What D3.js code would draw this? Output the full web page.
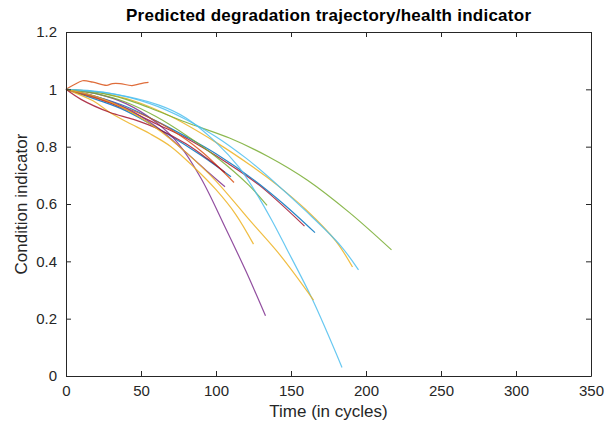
<!DOCTYPE html>
<html>
<head>
<meta charset="utf-8">
<script src="https://cdn.jsdelivr.net/npm/d3@7"></script>
<style>
body { margin: 0; background: #fff; }
text { font-family: "Liberation Sans", Arial, sans-serif; fill: #262626; }
</style>
</head>
<body>
<div id="chart"></div>
<script>
// each trajectory: [cycle, condition indicator]
var orangeWiggle = [[0,1],[5,1.015],[11,1.03],[18,1.025],[27,1.014],[31,1.02],[36,1.02],[44,1.013],[50,1.02],[55,1.024]];
var purpleLong = [[0,1],[20,0.985],[40,0.95],[60,0.885],[75,0.81],[90,0.69],[106,0.52],[120,0.365],[133,0.21]];
var purpleShort = [[0,1],[20,0.975],[40,0.935],[60,0.87],[80,0.78],[95,0.71],[106,0.66]];
var yellowLow = [[0,1],[18,0.96],[29,0.92],[41,0.885],[56,0.845],[70,0.8],[85,0.73],[100,0.65],[113,0.565],[125,0.46]];
var yellowMid = [[0,1],[20,0.975],[40,0.93],[60,0.865],[80,0.78],[100,0.68],[123,0.54],[143,0.42],[165,0.265]];
var blueSteep = [[0,1],[30,0.985],[62,0.945],[80,0.9],[100,0.815],[115,0.73],[126,0.645],[137,0.545],[147,0.445],[164,0.27],[184,0.03]];
var blueLight = [[0,1],[25,0.99],[56,0.95],[80,0.895],[100,0.835],[120,0.76],[136,0.69],[160,0.575],[183,0.455],[195,0.37]];
var yellowHigh = [[0,1],[20,0.99],[45,0.96],[70,0.905],[100,0.815],[123,0.735],[141,0.665],[160,0.58],[180,0.47],[191,0.38]];
var redMid = [[0,1],[20,0.97],[40,0.93],[60,0.88],[80,0.83],[107,0.745],[129,0.665],[159,0.523]];
var blueMid = [[0,1],[20,0.975],[40,0.94],[60,0.89],[80,0.835],[100,0.775],[125,0.685],[145,0.6],[166,0.5]];
var greenLong = [[0,1],[20,0.99],[40,0.965],[56,0.935],[80,0.885],[109,0.83],[135,0.765],[161,0.683],[189,0.57],[217,0.44]];
var greenShort = [[0,1],[20,0.985],[40,0.955],[60,0.905],[80,0.84],[100,0.765],[122,0.665],[134,0.595]];
var orangeMid = [[0,1],[20,0.97],[40,0.935],[56,0.9],[70,0.86],[90,0.785],[112,0.675]];
var redLow = [[0,1],[10,0.965],[29,0.92],[45,0.895],[60,0.865],[80,0.81],[95,0.755],[106,0.71]];
var blueLow = [[0,1],[20,0.965],[40,0.925],[69,0.84],[90,0.77],[110,0.695]];

var series = [blueLow, orangeWiggle, yellowHigh, purpleLong, greenLong, blueLight, redMid,
    blueMid, orangeMid, yellowLow, purpleShort, greenShort, blueSteep, redLow, yellowMid];
var colors = ["#0072BD", "#D95319", "#EDB120", "#7E2F8E", "#77AC30", "#4DBEEE", "#A2142F",
    "#0072BD", "#D95319", "#EDB120", "#7E2F8E", "#77AC30", "#4DBEEE", "#A2142F", "#EDB120"];

var xTicks = [0, 50, 100, 150, 200, 250, 300, 350];
var yTicks = [0, 0.2, 0.4, 0.6, 0.8, 1, 1.2];

var width = 606, height = 425;
var margin = {top: 32, right: 15, bottom: 49, left: 66};

var svg = d3.select("#chart").append("svg")
    .attr("width", width)
    .attr("height", height);

var x = d3.scaleLinear().domain([0, 350]).range([margin.left, width - margin.right]);
var y = d3.scaleLinear().domain([0, 1.2]).range([height - margin.bottom, margin.top]);

var line = d3.line()
    .x(function(d) { return x(d[0]); })
    .y(function(d) { return y(d[1]); })
    .curve(d3.curveCatmullRom.alpha(0.5));

svg.append("g")
    .selectAll("path")
    .data(series)
    .enter()
    .append("path")
    .attr("d", line)
    .attr("fill", "none")
    .attr("stroke", function(d, i) { return colors[i]; })
    .attr("stroke-width", 1.2)
    .attr("opacity", 0.85);

// axes, MATLAB style with the box and inward ticks
var axisColor = "#262626";
function styleAxis(g) {
    g.select(".domain").attr("stroke", axisColor);
    g.selectAll(".tick line").attr("stroke", axisColor);
    g.selectAll(".tick text").style("font-size", "15px").attr("fill", axisColor);
}

svg.append("g")
    .attr("transform", "translate(0," + y(0) + ")")
    .call(d3.axisBottom(x).tickValues(xTicks).tickSize(-5).tickPadding(9).tickSizeOuter(0))
    .call(styleAxis);
svg.append("g")
    .attr("transform", "translate(0," + y(1.2) + ")")
    .call(d3.axisTop(x).tickValues(xTicks).tickSize(-5).tickFormat("").tickSizeOuter(0))
    .call(styleAxis);
svg.append("g")
    .attr("transform", "translate(" + x(0) + ",0)")
    .call(d3.axisLeft(y).tickValues(yTicks).tickSize(-5).tickPadding(9).tickSizeOuter(0)
        .tickFormat(function(d) { return d3.format("")(+d.toFixed(1)); }))
    .call(styleAxis);
svg.append("g")
    .attr("transform", "translate(" + x(350) + ",0)")
    .call(d3.axisRight(y).tickValues(yTicks).tickSize(-5).tickFormat("").tickSizeOuter(0))
    .call(styleAxis);

svg.append("text")
    .attr("x", (x(0) + x(350)) / 2)
    .attr("y", 21)
    .attr("text-anchor", "middle")
    .attr("textLength", 405)
    .attr("lengthAdjust", "spacing")
    .style("font-size", "17px")
    .style("font-weight", "bold")
    .style("fill", "#000")
    .text("Predicted degradation trajectory/health indicator");

svg.append("text")
    .attr("x", (x(0) + x(350)) / 2)
    .attr("y", 417)
    .attr("text-anchor", "middle")
    .style("font-size", "17px")
    .text("Time (in cycles)");

svg.append("text")
    .attr("transform", "translate(27," + (y(0) + y(1.2)) / 2 + ") rotate(-90)")
    .attr("text-anchor", "middle")
    .style("font-size", "17px")
    .text("Condition indicator");
</script>
</body>
</html>
